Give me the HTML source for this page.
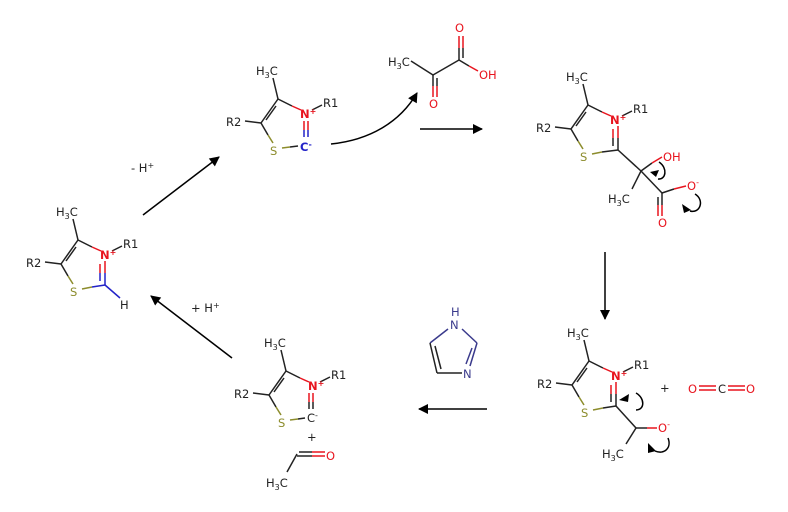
<!DOCTYPE html>
<html><head><meta charset="utf-8"><style>
html,body{margin:0;padding:0;background:#fff}
svg{display:block}
text{font-family:"DejaVu Sans","Liberation Sans",sans-serif;font-size:11.5px}
.k{fill:#222}.r{fill:#e8141e}.b{fill:#2323c8}.s{fill:#8c8c2c}.nv{fill:#3a3a8c}
line{stroke-width:1.5}
.c{stroke-width:1.5;fill:none}
</style></head><body>
<svg width="788" height="512" viewBox="0 0 788 512" xmlns="http://www.w3.org/2000/svg">
<defs>
<marker id="ah" viewBox="0 0 10 10" refX="9" refY="5" markerWidth="12" markerHeight="10" markerUnits="userSpaceOnUse" orient="auto"><path d="M0,0 L10,5 L0,10 z" style="fill:#000;stroke:none"/></marker>
<g id="ring">
  <line x1="0" y1="0" x2="-5" y2="-21" stroke="#222"/>
  <line x1="0" y1="0" x2="14" y2="7" stroke="#222"/>
  <line x1="14" y1="7" x2="23" y2="11" stroke="#e8141e"/>
  <line x1="0" y1="0" x2="-17" y2="24" stroke="#222"/>
  <line x1="-2" y1="7" x2="-12" y2="21" stroke="#222"/>
  <line x1="-17" y1="24" x2="-10" y2="36" stroke="#222"/>
  <line x1="-10" y1="36" x2="-5" y2="44" stroke="#8c8c2c"/>
  <line x1="-17" y1="24" x2="-33" y2="22" stroke="#222"/>
  <line x1="34" y1="11" x2="44" y2="6" stroke="#222"/>
  <text x="-22" y="-24" class="k">H<tspan font-size="8" dy="3">3</tspan><tspan dy="-3">C</tspan></text>
  <text x="-52" y="27" class="k">R2</text>
  <text x="45" y="8" class="k">R1</text>
  <text x="-8" y="56" class="s">S</text>
</g>
</defs>

<!-- Molecule 1 -->
<g transform="translate(78,240)">
  <use href="#ring"/>
  <text x="22" y="19" class="r" font-weight="bold">N<tspan font-size="8" dy="-4">+</tspan></text>
  <line x1="4" y1="49" x2="14" y2="47" stroke="#8c8c2c"/><line x1="14" y1="47" x2="27" y2="45" stroke="#2323c8"/>
  <line x1="27" y1="45" x2="27" y2="33" stroke="#2323c8"/><line x1="27" y1="33" x2="27" y2="21" stroke="#e8141e"/>
  <line x1="22" y1="41" x2="22" y2="33" stroke="#2323c8"/><line x1="22" y1="33" x2="22" y2="24" stroke="#e8141e"/>
  <line x1="27" y1="45" x2="42" y2="58" stroke="#2323c8"/>
  <text x="42" y="69" class="k">H</text>
</g>

<!-- Molecule 2 -->
<g transform="translate(278,99)">
  <use href="#ring"/>
  <text x="22" y="19" class="r" font-weight="bold">N<tspan font-size="8" dy="-4">+</tspan></text>
  <line x1="4" y1="49" x2="12" y2="48" stroke="#8c8c2c"/><line x1="12" y1="48" x2="20" y2="47" stroke="#222"/>
  <line x1="26" y1="38" x2="26" y2="31" stroke="#2323c8"/><line x1="26" y1="31" x2="26" y2="22" stroke="#e8141e"/>
  <line x1="30" y1="38" x2="30" y2="31" stroke="#2323c8"/><line x1="30" y1="31" x2="30" y2="22" stroke="#e8141e"/>
  <text x="22" y="52" class="b" font-weight="bold">C<tspan font-size="8" dy="-4">-</tspan></text>
</g>

<!-- Molecule 3 -->
<g transform="translate(588,105)">
  <use href="#ring"/>
  <text x="22" y="19" class="r" font-weight="bold">N<tspan font-size="8" dy="-4">+</tspan></text>
  <line x1="4" y1="49" x2="14" y2="47" stroke="#8c8c2c"/><line x1="14" y1="47" x2="30" y2="45" stroke="#222"/>
  <line x1="30" y1="45" x2="30" y2="33" stroke="#222"/><line x1="30" y1="33" x2="30" y2="21" stroke="#e8141e"/>
  <line x1="25" y1="41" x2="25" y2="33" stroke="#222"/><line x1="25" y1="33" x2="25" y2="24" stroke="#e8141e"/>
</g>
<line x1="618" y1="150" x2="641" y2="171" stroke="#222"/>
<line x1="641" y1="171" x2="652" y2="163" stroke="#222"/><line x1="652" y1="163" x2="662" y2="157" stroke="#e8141e"/>
<text x="663" y="161" class="r">OH</text>
<line x1="641" y1="171" x2="632" y2="189" stroke="#222"/>
<text x="608" y="203" class="k">H<tspan font-size="8" dy="3">3</tspan><tspan dy="-3">C</tspan></text>
<line x1="641" y1="171" x2="662" y2="193" stroke="#222"/>
<line x1="662" y1="193" x2="674" y2="189" stroke="#222"/><line x1="674" y1="189" x2="686" y2="186" stroke="#e8141e"/>
<text x="687" y="190" class="r">O<tspan font-size="8" dy="-5">-</tspan></text>
<line x1="662" y1="193" x2="662" y2="205" stroke="#222"/><line x1="662" y1="205" x2="662" y2="216" stroke="#e8141e"/>
<line x1="658" y1="197" x2="658" y2="205" stroke="#222"/><line x1="658" y1="205" x2="658" y2="216" stroke="#e8141e"/>
<text x="658" y="227" class="r">O</text>
<path class="c" d="M659,162 C668,168 666,180 658,179" stroke="#000"/>
<path d="M650,172 l9,-2 l-3,7 z" style="fill:#000;stroke:none"/>
<path class="c" d="M695,194 C705,200 700,214 690,211" stroke="#000"/>
<path d="M682,204 l9,6 l-7,3 z" style="fill:#000;stroke:none"/>

<!-- Pyruvic acid -->
<text x="388" y="66" class="k">H<tspan font-size="8" dy="3">3</tspan><tspan dy="-3">C</tspan></text>
<line x1="411" y1="61" x2="433" y2="75" stroke="#222"/>
<line x1="433" y1="75" x2="459" y2="60" stroke="#222"/>
<line x1="433" y1="75" x2="433" y2="86" stroke="#222"/><line x1="433" y1="86" x2="433" y2="97" stroke="#e8141e"/>
<line x1="437" y1="78" x2="437" y2="86" stroke="#222"/><line x1="437" y1="86" x2="437" y2="97" stroke="#e8141e"/>
<text x="429" y="108" class="r">O</text>
<line x1="459" y1="60" x2="459" y2="48" stroke="#222"/><line x1="459" y1="48" x2="459" y2="36" stroke="#e8141e"/>
<line x1="463" y1="58" x2="463" y2="48" stroke="#222"/><line x1="463" y1="48" x2="463" y2="36" stroke="#e8141e"/>
<text x="455" y="32" class="r">O</text>
<line x1="459" y1="60" x2="469" y2="66" stroke="#222"/><line x1="469" y1="66" x2="478" y2="71" stroke="#e8141e"/>
<text x="479" y="79" class="r">OH</text>

<!-- Molecule 4 -->
<g transform="translate(589,361)">
  <use href="#ring"/>
  <text x="22" y="19" class="r" font-weight="bold">N<tspan font-size="8" dy="-4">+</tspan></text>
  <line x1="4" y1="49" x2="14" y2="47" stroke="#8c8c2c"/><line x1="14" y1="47" x2="27" y2="45" stroke="#222"/>
  <line x1="27" y1="45" x2="27" y2="33" stroke="#222"/><line x1="27" y1="33" x2="27" y2="21" stroke="#e8141e"/>
  <line x1="22" y1="41" x2="22" y2="33" stroke="#222"/><line x1="22" y1="33" x2="22" y2="24" stroke="#e8141e"/>
</g>
<line x1="616" y1="406" x2="636" y2="428" stroke="#222"/>
<line x1="636" y1="428" x2="647" y2="428" stroke="#222"/><line x1="647" y1="428" x2="657" y2="428" stroke="#e8141e"/>
<text x="658" y="432" class="r">O<tspan font-size="8" dy="-5">-</tspan></text>
<line x1="636" y1="428" x2="626" y2="444" stroke="#222"/>
<text x="602" y="458" class="k">H<tspan font-size="8" dy="3">3</tspan><tspan dy="-3">C</tspan></text>
<path class="c" d="M636,393 C645,398 645,410 636,410" stroke="#000"/>
<path d="M619,400 l10,-6 l-1,8 z" style="fill:#000;stroke:none"/>
<path class="c" d="M668,438 C672,448 664,455 655,451" stroke="#000"/>
<path d="M648,443 l8,8 l-8,2 z" style="fill:#000;stroke:none"/>
<text x="660" y="392" class="k">+</text>
<text x="688" y="393" class="r">O</text>
<line x1="699" y1="386" x2="716" y2="386" stroke="#e8141e"/><line x1="699" y1="390" x2="716" y2="390" stroke="#e8141e"/>
<text x="718" y="393" class="k">C</text>
<line x1="728" y1="386" x2="745" y2="386" stroke="#e8141e"/><line x1="728" y1="390" x2="745" y2="390" stroke="#e8141e"/>
<text x="746" y="393" class="r">O</text>

<!-- Imidazole -->
<text x="451" y="316" class="nv">H</text>
<text x="450" y="329" class="nv">N</text>
<line x1="448" y1="329" x2="430" y2="343" stroke="#3a3a8c"/>
<line x1="462" y1="329" x2="477" y2="343" stroke="#3a3a8c"/>
<line x1="430" y1="343" x2="437" y2="373" stroke="#222"/>
<line x1="435" y1="346" x2="441" y2="369" stroke="#222"/>
<line x1="437" y1="373" x2="462" y2="373" stroke="#222"/>
<line x1="477" y1="343" x2="470" y2="366" stroke="#3a3a8c"/>
<line x1="472" y1="348" x2="466" y2="364" stroke="#3a3a8c"/>
<text x="463" y="378" class="nv">N</text>

<!-- Molecule 5 -->
<g transform="translate(286,371)">
  <use href="#ring"/>
  <text x="22" y="19" class="r" font-weight="bold">N<tspan font-size="8" dy="-4">+</tspan></text>
  <line x1="4" y1="49" x2="12" y2="48" stroke="#8c8c2c"/><line x1="12" y1="48" x2="19" y2="47" stroke="#222"/>
  <line x1="23" y1="38" x2="23" y2="31" stroke="#222"/><line x1="23" y1="31" x2="23" y2="22" stroke="#e8141e"/>
  <line x1="27" y1="38" x2="27" y2="31" stroke="#222"/><line x1="27" y1="31" x2="27" y2="22" stroke="#e8141e"/>
  <text x="21" y="51" class="k">C<tspan font-size="8" dy="-4">-</tspan></text>
</g>
<text x="307" y="441" class="k">+</text>
<line x1="297" y1="456" x2="312" y2="456" stroke="#222"/><line x1="312" y1="456" x2="325" y2="456" stroke="#e8141e"/>
<line x1="299" y1="452" x2="312" y2="452" stroke="#222"/><line x1="312" y1="452" x2="325" y2="452" stroke="#e8141e"/>
<text x="326" y="460" class="r">O</text>
<line x1="297" y1="454" x2="287" y2="472" stroke="#222"/>
<text x="266" y="487" class="k">H<tspan font-size="8" dy="3">3</tspan><tspan dy="-3">C</tspan></text>

<!-- Reaction arrows -->
<line x1="143" y1="215" x2="219" y2="157" stroke="#000" marker-end="url(#ah)"/>
<text x="131" y="172" class="k">-  H<tspan font-size="8" dy="-4">+</tspan></text>
<path class="c" d="M331,144 C370,140 400,122 417,93" stroke="#000" marker-end="url(#ah)"/>
<line x1="420" y1="129" x2="482" y2="129" stroke="#000" marker-end="url(#ah)"/>
<line x1="605" y1="252" x2="605" y2="319" stroke="#000" marker-end="url(#ah)"/>
<line x1="487" y1="409" x2="419" y2="409" stroke="#000" marker-end="url(#ah)"/>
<line x1="232" y1="358" x2="151" y2="296" stroke="#000" marker-end="url(#ah)"/>
<text x="191" y="312" class="k">+ H<tspan font-size="8" dy="-4">+</tspan></text>
</svg>
</body></html>
